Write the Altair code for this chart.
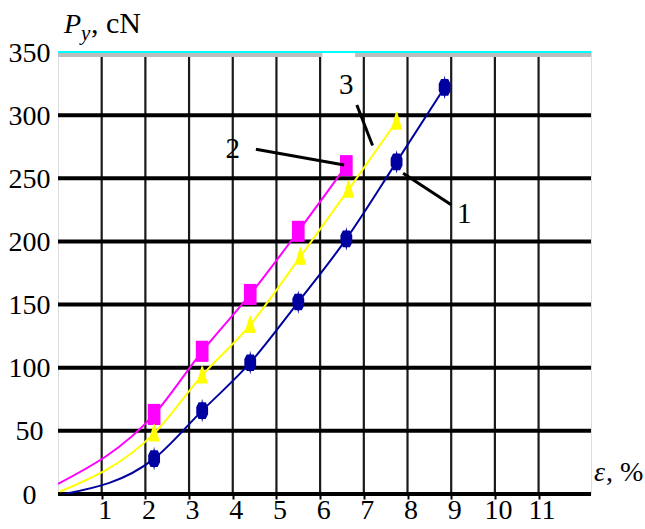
import altair as alt
import pandas as pd

# Load curves P_y (cN) versus strain eps (%)
blue_x = [0.15, 2.2, 3.3, 4.4, 5.5, 6.6, 7.75, 8.85]
blue_y = [0, 28, 66, 104, 152, 202, 263, 322]
pink_x = [0.0, 2.2, 3.3, 4.4, 5.5, 6.6]
pink_y = [8, 63, 113, 158, 208, 260]
yellow_x = [0.05, 2.2, 3.3, 4.4, 5.55, 6.65, 7.75]
yellow_y = [2, 48, 94, 134, 188, 241, 295]

x_ticks = list(range(1, 12))
y_ticks = [0, 50, 100, 150, 200, 250, 300, 350]
h_grid = [0, 50, 100, 150, 200, 250, 300]

# curve labels and their leader lines
curve_labels = ["1", "2", "3"]
label_x = [9.3, 4.0, 6.6]
label_y = [222, 273, 324]
leader_x1 = [7.9, 4.53, 6.84]
leader_y1 = [254, 273, 308]
leader_x2 = [9.0, 6.55, 7.2]
leader_y2 = [229, 260.5, 276]

X_MAX = 12.2
Y_MAX = 350
W, H = 533, 442
SERIF = "Liberation Serif"
NAVY, MAGENTA, YELLOW = "#0000A0", "#FF00FF", "#FFFF00"

xs = alt.Scale(domain=[0, X_MAX], nice=False, zero=False)
ys = alt.Scale(domain=[0, Y_MAX], nice=False)

# the same axis objects go into every layer so they merge cleanly
ax_x = alt.Axis(
    values=x_ticks, title=None, grid=False, domain=False, ticks=True,
    tickSize=5, tickWidth=2, tickColor="black", labelFont=SERIF,
    labelFontSize=28, labelColor="black", labelPadding=-3, labelOffset=3,
    labelFlush=False)
ax_y = alt.Axis(
    values=y_ticks, title=None, grid=False, domain=False, ticks=False,
    labelFont=SERIF, labelFontSize=28, labelColor="black", labelPadding=29,
    labelAlign="center", labelOffset=1, labelFlush=False)

X = lambda f: alt.X(f, scale=xs, axis=ax_x)
Y = lambda f: alt.Y(f, scale=ys, axis=ax_y)

# symbol outlines (unit box -1..1)
STAR = ("M0,-1L0.06,-0.7L0.3,-0.7L0.5,-0.3L0.5,0.3L0.3,0.7L0.06,0.7L0,1"
        "L-0.06,0.7L-0.3,0.7L-0.5,0.3L-0.5,-0.3L-0.3,-0.7L-0.06,-0.7Z")
RECT = "M-0.6,-1L0.6,-1L0.6,1L-0.6,1Z"
TRI = "M-0.08,-1L0.08,-1L0.62,0.9L-0.62,0.9Z"

frames = []
for name, xv, yv in [("1", blue_x, blue_y), ("2", pink_x, pink_y), ("3", yellow_x, yellow_y)]:
    frames.append(pd.DataFrame({"curve": name, "eps": xv, "P": yv}))
curves = pd.concat(frames, ignore_index=True)

hgrid_df = pd.DataFrame({"y": h_grid})
vgrid_df = pd.DataFrame({"x": x_ticks})
labels_df = pd.DataFrame({"t": curve_labels, "x": label_x, "y": label_y})
leaders_df = pd.DataFrame({"x": leader_x1, "y": leader_y1, "x2": leader_x2, "y2": leader_y2})

vgrid = alt.Chart(vgrid_df).mark_rule(color="#1a1a1a", strokeWidth=2.2).encode(
    x=X("x:Q"), y=alt.datum(0), y2=alt.datum(346))

hgrid = alt.Chart(hgrid_df).mark_rule(color="black", strokeWidth=4).encode(
    y=Y("y:Q"), x=alt.datum(0), x2=alt.datum(X_MAX))

top_gray = alt.Chart(pd.DataFrame({"a": [0, 6.8], "b": [6.05, X_MAX]})).mark_rule(
    color="#BDBDBD", strokeWidth=4).encode(
    x=X("a:Q"), x2="b:Q", y=alt.datum(347.6))
top_cyan = alt.Chart(pd.DataFrame({"y": [350]})).mark_rule(
    color="#00FFFF", strokeWidth=2).encode(
    y=Y("y:Q"), x=alt.datum(0), x2=alt.datum(X_MAX))

color_scale = alt.Scale(domain=["1", "2", "3"], range=[NAVY, MAGENTA, YELLOW])
shape_scale = alt.Scale(domain=["1", "2", "3"], range=[STAR, RECT, TRI])
size_scale = alt.Scale(domain=["1", "2", "3"], range=[560, 330, 520])

lines = alt.Chart(curves).mark_line(strokeWidth=2, interpolate="monotone", clip=True).encode(
    x=X("eps:Q"), y=Y("P:Q"),
    color=alt.Color("curve:N", scale=color_scale, legend=None),
    detail="curve:N")

points = alt.Chart(curves).transform_filter("datum.eps > 0.5").mark_point(
    filled=True, opacity=1, strokeWidth=0).encode(
    x=X("eps:Q"), y=Y("P:Q"),
    color=alt.Color("curve:N", scale=color_scale, legend=None),
    shape=alt.Shape("curve:N", scale=shape_scale, legend=None),
    size=alt.Size("curve:N", scale=size_scale, legend=None))

leaders = alt.Chart(leaders_df).mark_rule(color="black", strokeWidth=3).encode(
    x=X("x:Q"), y=Y("y:Q"), x2="x2:Q", y2="y2:Q")

label_text = alt.Chart(labels_df).mark_text(
    font=SERIF, fontSize=29, color="black", baseline="middle", align="center").encode(
    x=X("x:Q"), y=Y("y:Q"), text="t:N")

def note(txt, px, py, size=28, style="normal"):
    return alt.Chart(pd.DataFrame({"t": [txt]})).mark_text(
        font=SERIF, fontSize=size, fontStyle=style, color="black",
        align="left", baseline="alphabetic").encode(
        x=alt.value(px), y=alt.value(py), text="t:N")

titles = (note("P", 6, -19, 28, "italic") + note("y", 23, -12, 21, "italic")
          + note(", cN", 33, -19, 30)
          + note("\u03b5", 536, 429, 28, "italic") + note(", %", 548, 429, 28))

chart = alt.layer(
    vgrid, hgrid, top_gray, top_cyan, lines, points, leaders, label_text, titles
).properties(
    width=W, height=H,
    padding={"left": 58, "top": 52, "right": 54, "bottom": 35},
    autosize=alt.AutoSizeParams(type="none"),
).configure_view(stroke=None).configure(background="white")

chart.save("out.html", embed_options={"renderer": "svg", "actions": False})
